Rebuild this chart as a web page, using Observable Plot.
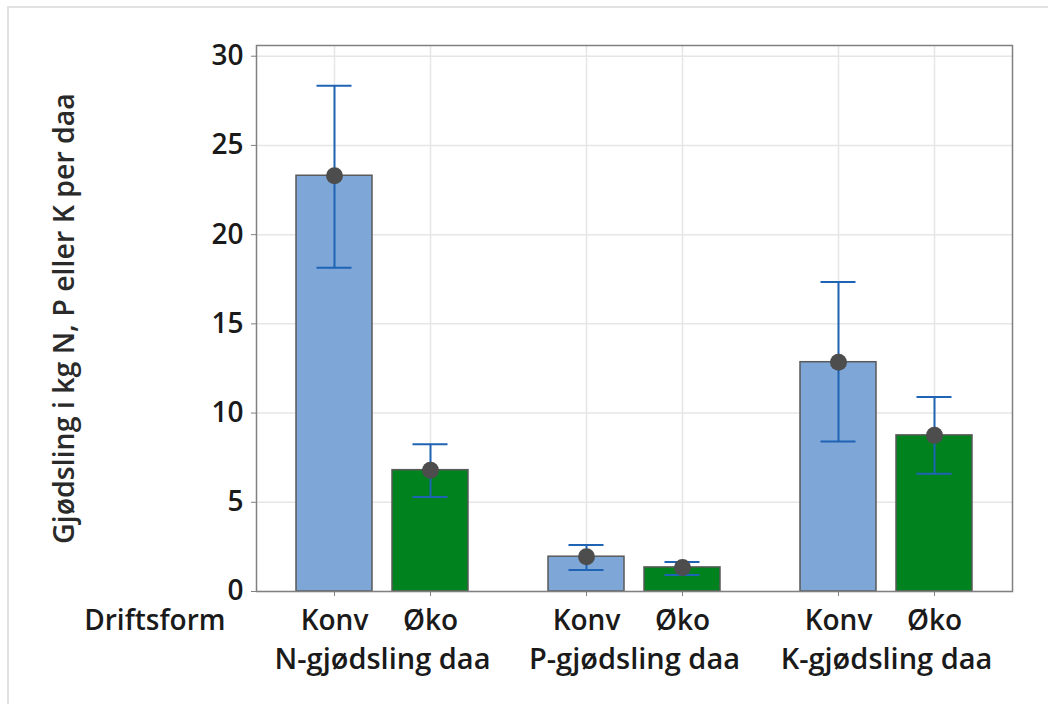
<!DOCTYPE html>
<html>
<head>
<meta charset="utf-8">
<script src="https://cdn.jsdelivr.net/npm/d3@7"></script>
<script src="https://cdn.jsdelivr.net/npm/@observablehq/plot@0.6"></script>
<style>
  body { margin: 0; background: #fff; }
  #wrap { position: relative; width: 1048px; height: 704px; overflow: hidden; }
  #box { position: absolute; left: 7px; top: 6px; width: 1100px; height: 760px;
         border-top: 2px solid #e2e2e2; border-left: 2px solid #e2e2e2; }
  #chart { position: absolute; left: 0; top: 0; }
</style>
</head>
<body>
<div id="wrap"><div id="box"></div><div id="chart"></div></div>
<script>
// Fertiliser groups (facets) and farming systems (bars within each group)
const groups = ["N-gjødsling daa", "P-gjødsling daa", "K-gjødsling daa"];
const forms = ["Konv", "Øko"];

// Mean application (kg per daa) with interval bounds, per group
const konvMean = [23.3, 1.95, 12.85];
const konvLow  = [18.15, 1.2, 8.4];
const konvHigh = [28.35, 2.6, 17.35];

const okoMean = [6.8, 1.35, 8.75];
const okoLow  = [5.3, 0.92, 6.6];
const okoHigh = [8.25, 1.65, 10.9];

const yTicks = [0, 5, 10, 15, 20, 25, 30];

const rows = [];
groups.forEach((g, i) => {
  rows.push({group: g, form: "Konv", mean: konvMean[i], lo: konvLow[i], hi: konvHigh[i]});
  rows.push({group: g, form: "Øko", mean: okoMean[i], lo: okoLow[i], hi: okoHigh[i]});
});

const errColor = "#1f63b4";
const fontSize = 28;

const chart = Plot.plot({
  width: 1048,
  height: 704,
  marginLeft: 255,
  marginRight: 35,
  marginTop: 45,
  marginBottom: 113,
  style: {fontFamily: "'Open Sans', sans-serif", fontWeight: 600, color: "#1a1a1a", background: "transparent"},
  fx: {domain: groups, padding: 0},
  x: {domain: forms, paddingInner: 0.206, paddingOuter: 0.4055},
  y: {domain: [0, 30.6]},
  color: {domain: forms, range: ["#7ea7d8", "#00821f"]},
  marks: [
    Plot.gridY(yTicks, {stroke: "#e6e6e6", strokeOpacity: 1, strokeWidth: 1.5}),
    Plot.gridX(forms, {stroke: "#e6e6e6", strokeOpacity: 1, strokeWidth: 1.5}),
    Plot.barY(rows, {fx: "group", x: "form", y: "mean", fill: "form", stroke: "#5a5a5a", strokeWidth: 1.5}),
    Plot.ruleX(rows, {fx: "group", x: "form", y1: "lo", y2: "hi", stroke: errColor, strokeWidth: 2}),
    Plot.tickY(rows, {fx: "group", x: "form", y: "lo", stroke: errColor, strokeWidth: 2, insetLeft: 20.5, insetRight: 20.5}),
    Plot.tickY(rows, {fx: "group", x: "form", y: "hi", stroke: errColor, strokeWidth: 2, insetLeft: 20.5, insetRight: 20.5}),
    Plot.dot(rows, {fx: "group", x: "form", y: "mean", r: 8.5, fill: "#4d4d4d"}),
    Plot.frame({facet: "super", stroke: "#808080", strokeWidth: 1.5}),
    Plot.axisY(yTicks, {tickSize: 5, tickPadding: 8, fontSize, stroke: "#808080", label: null}),
    Plot.axisX({tickSize: 5, tickPadding: 14, fontSize, stroke: "#808080", label: null}),
    Plot.axisFx({anchor: "bottom", tickSize: 0, tickPadding: 57, fontSize: 29, label: null}),
    Plot.text(["Driftsform"], {facet: "super", frameAnchor: "bottom-left", textAnchor: "end", lineAnchor: "top",
      dx: -31, dy: 19, fontSize, fill: "#1a1a1a"}),
    Plot.text(["Gjødsling i kg N, P eller K per daa"], {facet: "super", frameAnchor: "left", rotate: -90,
      textAnchor: "middle", lineAnchor: "bottom", dx: -183, fontSize: 28.5, fill: "#2a2a2a"})
  ]
});

document.getElementById("chart").appendChild(chart);
</script>
</body>
</html>
